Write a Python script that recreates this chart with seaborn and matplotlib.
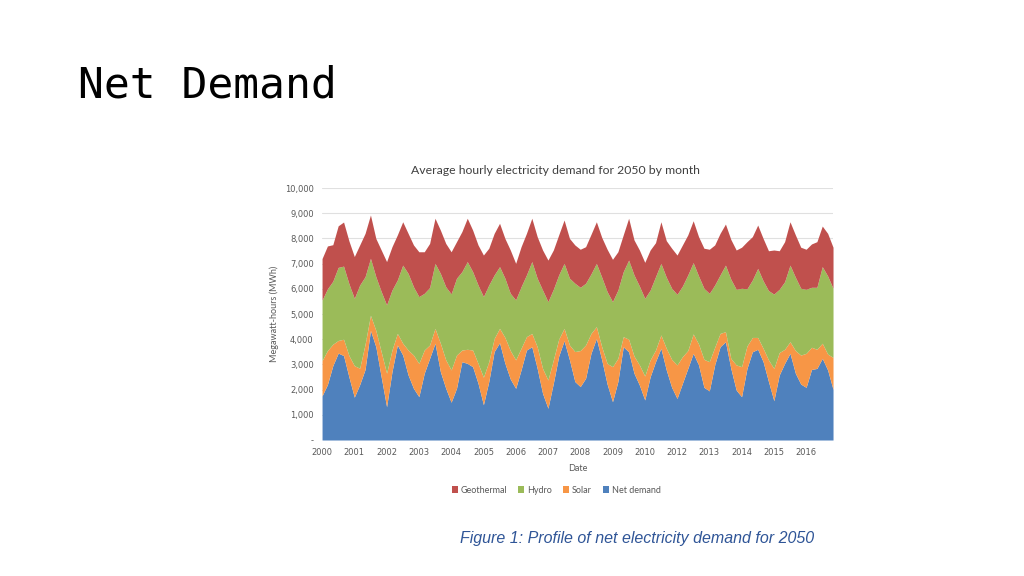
import numpy as np
import matplotlib
matplotlib.use('Agg')
import matplotlib.pyplot as plt
import seaborn as sns

# Bimonthly readings (Jan, Mar, May, Jul, Sep, Nov) per year, MWh
net_demand = [
    1750, 2200, 2950, 3450, 3350, 2500,
    1700, 2200, 2800, 4350, 3700, 2500,
    1320, 2710, 3770, 3370, 2580, 2050,
    1720, 2650, 3240, 3840, 2710, 2050,
    1500, 2050, 3110, 3040, 2910, 2250,
    1400, 2320, 3510, 3860, 3040, 2420,
    2050, 2780, 3570, 3700, 2840, 1850,
    1260, 2250, 3330, 3940, 3180, 2320,
    2120, 2450, 3440, 4030, 3180, 2220,
    1520, 2320, 3700, 3500, 2650, 2180,
    1590, 2510, 3110, 3640, 2780, 2090,
    1650, 2250, 2840, 3440, 2980, 2090,
    1950, 2980, 3700, 3900, 2840, 1980,
    1720, 2840, 3500, 3600, 3110, 2320,
    1560, 2580, 3040, 3440, 2650, 2220,
    2090, 2800, 2840, 3240, 2780, 2010,
]
solar = [
    1400, 1350, 850, 500, 650, 850,
    1250, 650, 1000, 600, 650, 1000,
    1330, 860, 460, 470, 990, 1320,
    1320, 920, 530, 590, 1130, 1130,
    1280, 1320, 460, 560, 660, 790,
    1090, 790, 520, 570, 1030, 1130,
    1130, 860, 530, 530, 860, 990,
    1120, 930, 670, 490, 590, 1190,
    1430, 1320, 790, 470, 520, 820,
    1390, 920, 400, 500, 680, 800,
    950, 670, 460, 530, 860, 1110,
    1330, 1060, 710, 770, 830, 1110,
    1160, 700, 530, 400, 400, 1000,
    1190, 890, 570, 470, 530, 860,
    1280, 890, 560, 460, 900, 1150,
    1350, 880, 760, 600, 630, 1270,
]
hydro = [
    2400, 2450, 2500, 2900, 2900, 2850,
    2670, 3300, 2680, 2260, 2130, 2390,
    2710, 2380, 2120, 3100, 3040, 2710,
    2650, 2250, 2280, 2580, 2770, 2900,
    3020, 3050, 3110, 3480, 3110, 3110,
    3200, 3040, 2520, 2450, 2350, 2270,
    2380, 2440, 2450, 2850, 2720, 3110,
    3110, 2800, 2550, 2580, 2650, 2710,
    2510, 2450, 2360, 2510, 2760, 2850,
    2580, 2710, 2580, 3140, 3220, 3130,
    3080, 2770, 2910, 2840, 2820, 2820,
    2800, 2800, 3000, 2830, 2700, 2820,
    2710, 2470, 2320, 2640, 3140, 3000,
    3110, 2270, 2280, 2740, 2680, 2750,
    2950, 2510, 2680, 3040, 2910, 2650,
    2540, 2380, 2460, 3040, 3100, 2740,
]
geothermal = [
    1650, 1700, 1450, 1650, 1750, 1700,
    1660, 1590, 1720, 1720, 1520, 1650,
    1720, 1720, 1790, 1720, 1590, 1660,
    1780, 1650, 1750, 1790, 1720, 1720,
    1670, 1450, 1590, 1720, 1650, 1590,
    1650, 1460, 1650, 1720, 1580, 1720,
    1450, 1590, 1650, 1720, 1650, 1590,
    1650, 1560, 1590, 1720, 1580, 1520,
    1510, 1450, 1570, 1650, 1580, 1680,
    1680, 1520, 1460, 1660, 1390, 1430,
    1430, 1590, 1350, 1650, 1450, 1590,
    1560, 1630, 1590, 1660, 1560, 1590,
    1750, 1590, 1650, 1630, 1580, 1560,
    1630, 1870, 1720, 1720, 1680, 1580,
    1750, 1530, 1590, 1720, 1680, 1630,
    1590, 1720, 1810, 1610, 1690, 1630,
]
year_labels = ['2000', '2001', '2002', '2003', '2004', '2005', '2006', '2007',
               '2008', '2009', '2010', '2012', '2013', '2014', '2015', '2016']
series_names = ['Net demand', 'Solar', 'Hydro', 'Geothermal']

sns.set_theme(style='white')
colors = ['#4F81BD', '#F79646', '#9BBB59', '#C0504D']

months = np.arange(0, 2 * len(net_demand), 2)

fig = plt.figure(figsize=(10.24, 5.76), dpi=100)
ax = fig.add_axes([0.3145, 0.2361, 0.499, 0.4375])

ax.stackplot(months, net_demand, solar, hydro, geothermal,
             colors=colors, labels=series_names, linewidth=0)

ax.set_xlim(0, months[-1])
ax.set_ylim(0, 10000)
yt = np.arange(0, 10001, 1000)
ax.set_yticks(yt)
ax.set_yticklabels(['-'] + [f'{v:,}' for v in yt[1:]], fontsize=6, color='#595959')
ax.set_xticks(np.arange(0, 12 * len(year_labels), 12))
ax.set_xticklabels(year_labels, fontsize=6, color='#595959')
ax.tick_params(axis='both', length=0, pad=6)
ax.yaxis.grid(True, color='#E0E0E0', linewidth=0.8)
ax.set_axisbelow(True)
for s in ax.spines.values():
    s.set_visible(False)

ax.set_ylabel('Megawatt-hours (MWh)', fontsize=6.5, color='#595959', family='Lato', labelpad=4)
ax.set_xlabel('Date', fontsize=6.5, color='#595959', family='Lato', labelpad=5)
fig.text(555 / 1024, 1 - 170 / 576, 'Average hourly electricity demand for 2050 by month',
         fontsize=8.8, color='#404040', family='Lato', ha='center', va='center')

handles, labels = ax.get_legend_handles_labels()
fig.legend(handles[::-1], labels[::-1], loc='center', bbox_to_anchor=(0.543, 0.149),
           ncol=4, frameon=False, handlelength=0.7, handleheight=0.7,
           handletextpad=0.3, columnspacing=1.2, labelcolor='#595959',
           prop={'family': 'Lato', 'size': 6.5})

fig.text(78 / 1024, 1 - 85 / 576, 'Net Demand', family='DejaVu Sans Mono',
         fontsize=31, va='center', ha='left', color='#000000')
fig.text(637 / 1024, 1 - 538 / 576, 'Figure 1: Profile of net electricity demand for 2050',
         family='Liberation Sans', style='italic', fontsize=11.5, color='#2F5597',
         ha='center', va='center')

fig.savefig('out.png', dpi=100)
